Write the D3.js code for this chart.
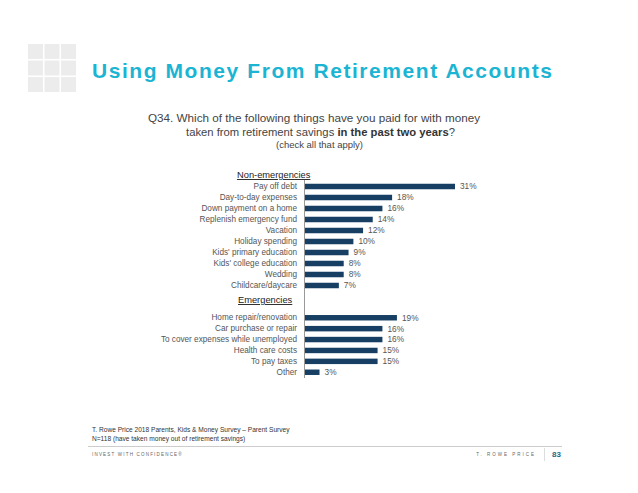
<!DOCTYPE html>
<html>
<head>
<meta charset="utf-8">
<script src="https://cdn.jsdelivr.net/npm/d3@7"></script>
<style>
  html, body { margin: 0; padding: 0; background: #fff; }
  svg { display: block; font-family: "Liberation Sans", Arial, sans-serif; }
</style>
</head>
<body>
<svg id="chart" width="638" height="493"></svg>
<script>
const nonEmCategories = ["Pay off debt", "Day-to-day expenses", "Down payment on a home", "Replenish emergency fund", "Vacation", "Holiday spending", "Kids' primary education", "Kids' college education", "Wedding", "Childcare/daycare"];
const nonEmValues = [31, 18, 16, 14, 12, 10, 9, 8, 8, 7];
const emCategories = ["Home repair/renovation", "Car purchase or repair", "To cover expenses while unemployed", "Health care costs", "To pay taxes", "Other"];
const emValues = [19, 16, 16, 15, 15, 3];
const groupHeaders = ["Non-emergencies", "Emergencies"];

const svg = d3.select("#chart");
const barColor = "#173f64";
const labelColor = "#555";

// logo grid
const gridIdx = d3.range(9);
const gx = d3.scaleBand().domain([0,1,2]).range([28, 76]).paddingInner(0.1);
svg.append("g").selectAll("rect").data(gridIdx).join("rect")
  .attr("x", d => gx(d % 3)).attr("y", d => 44 + (gx(Math.floor(d / 3)) - 28))
  .attr("width", gx.bandwidth()).attr("height", gx.bandwidth())
  .attr("fill", "#ececec");

// title
svg.append("text").attr("x", 92).attr("y", 78)
  .attr("fill", "#1bb4d3").attr("font-size", 21).attr("font-weight", "bold")
  .attr("textLength", 460).attr("lengthAdjust", "spacing")
  .text("Using Money From Retirement Accounts");

// subtitle
const sub = svg.append("g").attr("fill", "#444");
sub.append("text").attr("x", 148).attr("y", 122).attr("font-size", 10)
  .attr("textLength", 332).attr("lengthAdjust", "spacingAndGlyphs")
  .text("Q34. Which of the following things have you paid for with money");
const l2 = sub.append("text").attr("x", 186).attr("y", 136).attr("font-size", 10)
  .attr("textLength", 269).attr("lengthAdjust", "spacingAndGlyphs");
l2.append("tspan").text("taken from retirement savings ");
l2.append("tspan").attr("font-weight", "bold").attr("fill", "#333").text("in the past two years");
l2.append("tspan").text("?");
sub.append("text").attr("x", 276).attr("y", 148).attr("font-size", 8.5)
  .attr("textLength", 87).attr("lengthAdjust", "spacingAndGlyphs")
  .text("(check all that apply)");

// scales
const x = d3.scaleLinear().domain([0, 31]).range([305, 455]);
const y1 = d3.scaleBand().domain(nonEmCategories).range([181, 291]).paddingInner(0.5).paddingOuter(0.25);
const y2 = d3.scaleBand().domain(emCategories).range([312.3, 377.7]).paddingInner(0.5).paddingOuter(0.25);

function drawGroup(cats, vals, y) {
  const g = svg.append("g");
  const data = cats.map((c, i) => ({ c, v: vals[i] }));
  g.selectAll("rect").data(data).join("rect")
    .attr("x", x(0)).attr("y", d => y(d.c))
    .attr("width", d => x(d.v) - x(0)).attr("height", y.bandwidth())
    .attr("fill", barColor);
  g.selectAll("text.val").data(data).join("text").attr("class", "val")
    .attr("x", d => x(d.v) + 5).attr("y", d => y(d.c) + y.bandwidth() / 2)
    .attr("dy", "0.35em").attr("font-size", 8.3).attr("fill", labelColor)
    .text(d => d.v + "%");
  const ax = d3.axisLeft(y).tickSize(0).tickPadding(8);
  const axg = g.append("g").attr("transform", `translate(${x(0)},0)`).call(ax);
  axg.select(".domain").remove();
  axg.selectAll("text").attr("font-size", 8.2).attr("fill", labelColor)
    .attr("font-family", "Liberation Sans, Arial, sans-serif");
}
drawGroup(nonEmCategories, nonEmValues, y1);
drawGroup(emCategories, emValues, y2);

// vertical axis line
svg.append("line").attr("x1", x(0) - 0.5).attr("x2", x(0) - 0.5)
  .attr("y1", 180).attr("y2", 378).attr("stroke", "#999").attr("stroke-width", 1);

// group headers
const hdr = [{ t: groupHeaders[0], x: 237, y: 178 }, { t: groupHeaders[1], x: 238, y: 303 }];
svg.append("g").selectAll("text").data(hdr).join("text")
  .attr("x", d => d.x).attr("y", d => d.y).attr("font-size", 9.3).attr("fill", "#222")
  .attr("text-decoration", "underline").text(d => d.t);

// footer
const ft = svg.append("g").attr("fill", "#333").attr("font-size", 6.6);
ft.append("text").attr("x", 92).attr("y", 432)
  .text("T. Rowe Price 2018 Parents, Kids & Money Survey \u2013 Parent Survey");
ft.append("text").attr("x", 92).attr("y", 441)
  .text("N=118 (have taken money out of retirement savings)");
svg.append("line").attr("x1", 88).attr("x2", 562).attr("y1", 446.5).attr("y2", 446.5)
  .attr("stroke", "#ccc").attr("stroke-width", 1);
svg.append("text").attr("x", 92).attr("y", 456).attr("font-size", 4.5).attr("fill", "#666")
  .attr("letter-spacing", 1.2).text("INVEST WITH CONFIDENCE\u00AE");
svg.append("text").attr("x", 536).attr("y", 456).attr("font-size", 4.5).attr("fill", "#666")
  .attr("letter-spacing", 2).attr("text-anchor", "end").text("T. ROWE PRICE");
svg.append("line").attr("x1", 544.5).attr("x2", 544.5).attr("y1", 448).attr("y2", 461)
  .attr("stroke", "#ddd");
svg.append("text").attr("x", 552).attr("y", 457).attr("font-size", 8).attr("font-weight", "bold")
  .attr("fill", "#1d6a8a").text("83");
</script>
</body>
</html>
